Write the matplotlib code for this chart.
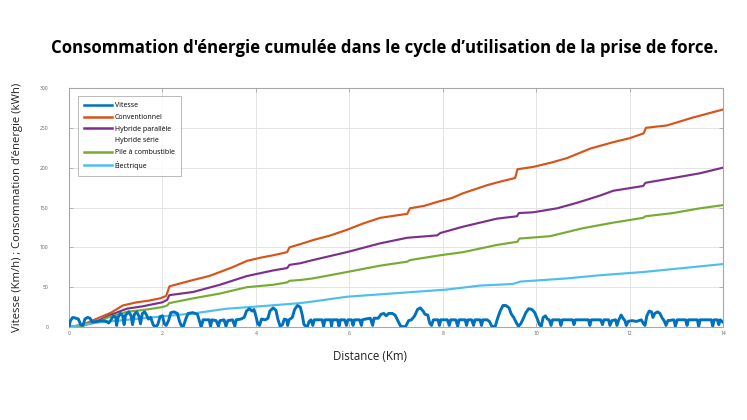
import matplotlib
matplotlib.use("Agg")
import matplotlib.pyplot as plt
from matplotlib.lines import Line2D

# ---- data ----
speed_x = [0.00, 0.03, 0.08, 0.15, 0.20, 0.25, 0.30, 0.34, 0.40, 0.45, 0.50, 0.60, 0.70, 0.80, 0.85,
           0.90, 0.95, 1.00, 1.02, 1.05, 1.10, 1.15, 1.18, 1.21, 1.28, 1.33, 1.36, 1.40, 1.45, 1.50,
           1.53, 1.57, 1.62, 1.66, 1.70, 1.75, 1.80, 1.85, 1.90, 1.95, 2.00, 2.04, 2.08, 2.13, 2.18,
           2.25, 2.32, 2.36, 2.40, 2.45, 2.50, 2.55, 2.65, 2.75, 2.80, 2.83, 2.87, 2.95, 3.00, 3.03,
           3.06, 3.15, 3.20, 3.23, 3.32, 3.36, 3.40, 3.50, 3.55, 3.58, 3.68, 3.75, 3.80, 3.86, 3.92,
           3.96, 4.00, 4.04, 4.08, 4.12, 4.20, 4.26, 4.30, 4.37, 4.43, 4.47, 4.52, 4.57, 4.61, 4.66,
           4.68, 4.71, 4.78, 4.83, 4.89, 4.95, 4.99, 5.03, 5.10, 5.14, 5.18, 5.22, 5.25, 5.35, 5.42,
           5.45, 5.48, 5.60, 5.62, 5.64, 5.75, 5.78, 5.81, 5.90, 5.94, 5.97, 6.05, 6.08, 6.11, 6.22,
           6.26, 6.28, 6.35, 6.45, 6.50, 6.53, 6.62, 6.68, 6.74, 6.79, 6.84, 6.92, 6.98, 7.03, 7.10,
           7.20, 7.27, 7.33, 7.40, 7.46, 7.52, 7.58, 7.62, 7.68, 7.72, 7.76, 7.80, 7.90, 7.93, 7.96,
           8.10, 8.14, 8.17, 8.28, 8.32, 8.35, 8.48, 8.51, 8.54, 8.62, 8.66, 8.69, 8.80, 8.83, 8.86,
           8.95, 9.00, 9.05, 9.12, 9.17, 9.23, 9.29, 9.35, 9.42, 9.47, 9.52, 9.57, 9.62, 9.67, 9.72,
           9.78, 9.84, 9.91, 9.97, 10.02, 10.07, 10.11, 10.15, 10.20, 10.24, 10.28, 10.32, 10.35, 10.50, 10.53,
           10.56, 10.78, 10.81, 10.84, 11.12, 11.15, 11.18, 11.38, 11.42, 11.45, 11.55, 11.58, 11.62, 11.70, 11.73,
           11.77, 11.82, 11.86, 11.90, 11.93, 11.97, 12.05, 12.15, 12.25, 12.30, 12.33, 12.37, 12.42, 12.47, 12.50,
           12.54, 12.60, 12.65, 12.70, 12.74, 12.78, 12.82, 12.95, 12.98, 13.02, 13.20, 13.23, 13.26, 13.45, 13.48,
           13.51, 13.60, 13.75, 13.78, 13.81, 13.88, 13.91, 13.94, 14.00]
speed_y = [0, 8, 12, 11, 10, 3, 2, 10, 12, 11, 6, 7, 8, 7, 5,
           9, 14, 12, 2, 12, 17, 14, 3, 15, 19, 14, 3, 16, 19, 13,
           4, 17, 19, 15, 10, 12, 3, 0, 3, 13, 14, 4, 2, 8, 18,
           19, 17, 8, 2, 1, 10, 17, 18, 16, 6, 0, 9, 9, 9, 1,
           9, 8, 1, 8, 9, 1, 8, 9, 1, 9, 10, 12, 20, 23, 20,
           22, 14, 4, 2, 10, 9, 11, 20, 24, 21, 10, 1, 3, 10, 9,
           2, 9, 12, 22, 27, 25, 16, 3, 0, 7, 9, 2, 9, 9, 9,
           1, 9, 9, 1, 9, 9, 1, 9, 9, 2, 9, 9, 2, 9, 9,
           2, 9, 10, 11, 2, 11, 11, 16, 17, 14, 17, 17, 15, 9, 1,
           0, 8, 9, 14, 22, 24, 20, 16, 15, 5, 2, 9, 9, 2, 9,
           9, 2, 9, 9, 1, 9, 9, 2, 9, 9, 2, 9, 9, 2, 9,
           9, 7, 1, 0, 10, 20, 27, 27, 24, 16, 12, 6, 1, 4, 10,
           18, 23, 22, 18, 11, 3, 1, 12, 14, 10, 9, 2, 9, 9, 2,
           9, 9, 3, 9, 9, 2, 9, 9, 3, 9, 9, 2, 8, 9, 2,
           9, 15, 11, 8, 2, 7, 8, 7, 9, 4, 2, 14, 20, 19, 12,
           17, 19, 17, 11, 8, 2, 8, 9, 1, 9, 9, 2, 9, 9, 1,
           9, 9, 9, 1, 9, 9, 3, 9, 6]

conv_x = [0, 0.3, 0.5, 0.7, 0.9, 1.15, 1.45, 1.7, 1.95, 2.08, 2.15, 2.4, 2.66, 3.0, 3.23, 3.5, 3.81,
          4.1, 4.37, 4.67, 4.72, 4.95, 5.22, 5.6, 5.95, 6.3, 6.66, 7.0, 7.24, 7.3, 7.6, 7.88, 8.2,
          8.44, 8.95, 9.2, 9.55, 9.6, 9.94, 10.3, 10.66, 11.16, 11.65, 12.0, 12.3, 12.35, 12.8, 13.36, 14.0]
conv_y = [0, 3, 8, 13, 18, 27, 31, 33, 36, 39, 51, 55, 59, 64, 69, 75, 83,
          87, 90, 94, 100, 104, 109, 115, 122, 130, 137, 140, 142, 149, 152, 157, 162,
          168, 178, 182, 187, 198, 201, 206, 212, 224, 232, 237, 243, 250, 253, 263, 273]

hpar_x = [0, 0.3, 0.6, 0.88, 1.24, 1.58, 2.0, 2.1, 2.15, 2.66, 3.23, 3.81, 4.37, 4.67, 4.72, 4.95,
          5.22, 5.95, 6.66, 7.24, 7.88, 7.95, 8.44, 9.16, 9.59, 9.63, 9.94, 10.45, 10.88, 11.37,
          11.65, 12.29, 12.34, 12.93, 13.51, 14.0]
hpar_y = [0, 2, 7, 15, 23, 26, 31, 34, 40, 44, 53, 64, 71, 74, 78, 80,
          84, 94, 105, 112, 115, 118, 126, 136, 139, 143, 144, 149, 156, 165,
          171, 177, 181, 187, 193, 200]

pile_x = [0, 0.3, 0.6, 0.88, 1.24, 1.67, 2.0, 2.1, 2.15, 2.66, 3.23, 3.81, 4.37, 4.67, 4.72, 4.95,
          5.22, 5.95, 6.66, 7.24, 7.3, 7.94, 8.44, 9.16, 9.6, 9.64, 10.3, 11.0, 11.65, 12.29, 12.34,
          12.93, 13.51, 14.0]
pile_y = [0, 2, 6, 13, 19, 22, 25, 27, 30, 36, 42, 50, 53, 56, 58, 59,
          61, 69, 77, 82, 84, 90, 94, 103, 107, 111, 114, 124, 131, 137, 139,
          143, 149, 153]

elec_x = [0, 0.51, 1.24, 1.95, 2.66, 3.38, 4.09, 4.52, 4.95, 5.22, 5.95, 6.66, 7.37, 8.09, 8.8,
          9.5, 9.66, 10.66, 11.37, 12.29, 13.15, 14.0]
elec_y = [0, 5, 9, 13, 17, 23, 26, 28, 30, 32, 38, 41, 44, 47, 52,
          54, 57, 61, 65, 69, 74, 79]

labels = ["Vitesse", "Conventionnel", "Hybride parallèle", "Hybride série",
          "Pile à combustible", "Électrique"]
x_ticks = [0, 2, 4, 6, 8, 10, 12, 14]
y_ticks = [0, 50, 100, 150, 200, 250, 300]

colors = {"blue": "#0072BD", "orange": "#D95319", "purple": "#7E2F8E",
          "green": "#77AC30", "cyan": "#4DBEEE"}

plt.rcParams['font.family'] = ['Open Sans', 'DejaVu Sans']

fig = plt.figure(figsize=(7.47, 4.2), dpi=100)
ax = fig.add_axes([69 / 747, 93 / 420, 654 / 747, 239 / 420])

lw = 1.55
ax.plot(conv_x, conv_y, color=colors["orange"], lw=lw, zorder=3)
ax.plot(hpar_x, hpar_y, color=colors["purple"], lw=lw, zorder=3)
ax.plot(pile_x, pile_y, color=colors["green"], lw=lw, zorder=3)
ax.plot(elec_x, elec_y, color=colors["cyan"], lw=lw, zorder=3)
ax.plot(speed_x, speed_y, color=colors["blue"], lw=2.1, zorder=4, solid_joinstyle='round')

ax.set_xlim(0, 14)
ax.set_ylim(0, 300)
ax.set_xticks(x_ticks)
ax.set_yticks(y_ticks)
ax.grid(True, color="#e4e4e4", lw=0.7)
ax.set_axisbelow(True)
for s in ax.spines.values():
    s.set_color("#a8a8a8")
    s.set_linewidth(0.8)
ax.tick_params(direction="in", length=3, width=0.6, color="#a8a8a8",
               labelsize=3.6, labelcolor="#606060", top=True, right=True, pad=3)
ax.tick_params(axis="y", pad=15)

handles = [Line2D([], [], color=colors["blue"], lw=1.8),
           Line2D([], [], color=colors["orange"], lw=1.8),
           Line2D([], [], color=colors["purple"], lw=1.8),
           Line2D([], [], color="none", lw=1.8),
           Line2D([], [], color=colors["green"], lw=1.8),
           Line2D([], [], color=colors["cyan"], lw=1.8)]
leg = ax.legend(handles, labels, loc="upper left", bbox_to_anchor=(9 / 654, 1 - 8 / 239),
                fontsize=5.0, frameon=True, fancybox=False, edgecolor="#a8a8a8",
                handlelength=4.0, handletextpad=0.4, labelspacing=0.68, borderpad=0.9,
                borderaxespad=0)
leg.get_frame().set_linewidth(0.7)

fig.text(385 / 747, 1 - 48 / 420,
         "Consommation d'énergie cumulée dans le cycle d’utilisation de la prise de force.",
         ha="center", va="center", fontsize=12.1, fontweight="bold", color="#000000")
fig.text(370 / 747, 1 - 356 / 420, "Distance (Km)", ha="center", va="center",
         fontsize=8.3, color="#222222")
fig.text(18 / 747, 1 - 207 / 420, "Vitesse (Km/h) ; Consommation d’énergie (kWh)",
         ha="center", va="center", rotation=90, fontsize=8.1, color="#222222")

fig.savefig("out.png", dpi=100)
